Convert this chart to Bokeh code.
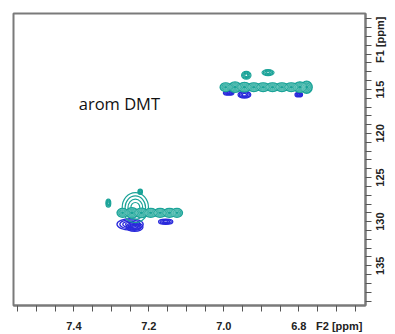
import math
from bokeh.plotting import figure
from bokeh.models import Range1d, FixedTicker, Label, ColumnDataSource
from bokeh.embed import file_html
from bokeh.resources import INLINE

# --- HSQC aromatic region: peak parameters (F2 ppm, F1 ppm, widths in ppm) ---
# positive cross-peak bands (drawn filled)
band_x = [6.995, 6.970, 6.945, 6.920, 6.895, 6.870, 6.845, 6.820, 6.797, 6.779,
          7.270, 7.245, 7.220, 7.195, 7.170, 7.145, 7.125]
band_y = [114.75, 114.75, 114.75, 114.75, 114.75, 114.75, 114.75, 114.75, 114.75, 114.75,
          129.0, 129.0, 129.0, 129.0, 129.0, 129.0, 129.0]
band_w = [0.030, 0.035, 0.035, 0.035, 0.035, 0.035, 0.035, 0.035, 0.035, 0.030,
          0.030, 0.035, 0.035, 0.035, 0.035, 0.035, 0.030]
band_h = [1.0, 1.2, 1.1, 1.0, 1.0, 1.0, 1.0, 1.0, 1.2, 1.4,
          1.0, 1.2, 1.1, 1.0, 1.0, 1.0, 1.0]

# positive isolated contours (drawn as rings)
ring_x = [7.236, 7.223, 7.308, 6.940, 6.882]
ring_y = [128.4, 126.6, 127.9, 113.4, 113.1]
ring_w = [0.070, 0.012, 0.013, 0.025, 0.032]
ring_h = [3.4, 0.6, 0.9, 0.9, 0.7]

# negative contours
neg_x = [6.987, 6.945, 6.800, 7.250, 7.238, 7.155]
neg_y = [115.4, 115.6, 115.6, 130.3, 130.6, 130.0]
neg_w = [0.028, 0.034, 0.020, 0.070, 0.045, 0.038]
neg_h = [0.5, 0.8, 0.5, 1.3, 1.0, 0.6]

levels = [1.0, 0.78, 0.56, 0.34]

# axis labels; the extra position on each axis carries the axis title
x_labels = {7.4: "7.4", 7.2: "7.2", 7.0: "7.0", 6.8: "6.8", 6.692: "F2 [ppm]"}
y_labels = {115: "115", 120: "120", 125: "125", 130: "130", 135: "135", 109.4: "F1 [ppm]"}
x_ticks = [7.55, 7.50, 7.45, 7.40, 7.35, 7.30, 7.25, 7.20, 7.15, 7.10, 7.05,
           7.00, 6.95, 6.90, 6.85, 6.80, 6.75, 6.70, 6.65]
y_ticks = list(range(107, 140))

POS = "#1aa398"
NEG = "#2a2adb"
GRAY = "#7a7a7a"

F1_TOP, F1_BOTTOM = 106.4, 139.5
FRAME_H = 334 - 13 - 26
PX_PER_PPM = FRAME_H / (F1_BOTTOM - F1_TOP)

p = figure(width=395, height=334, output_backend="svg", toolbar_location=None,
           x_range=Range1d(7.561, 6.622), y_range=Range1d(F1_BOTTOM, F1_TOP),
           y_axis_location="right")
p.min_border_left = 13
p.min_border_top = 13
p.min_border_right = 24
p.min_border_bottom = 26
p.xgrid.visible = False
p.ygrid.visible = False
p.outline_line_color = GRAY
p.outline_line_width = 2
p.background_fill_color = "white"
p.border_fill_color = "white"

def lv(xs, ys, ws, hs, f):
    return ColumnDataSource(dict(x=xs, y=ys, w=[w * f for w in ws], h=[h * f for h in hs]))

# negative levels
for f in levels:
    p.ellipse("x", "y", "w", "h", source=lv(neg_x, neg_y, neg_w, neg_h, f),
              fill_color=None, line_color=NEG, line_width=1.3)

# positive isolated rings
for f in levels:
    p.ellipse("x", "y", "w", "h", source=lv(ring_x, ring_y, ring_w, ring_h, f),
              fill_color=None, line_color=POS, line_width=1.2)

# positive bands
p.ellipse("x", "y", "w", "h", source=lv(band_x, band_y, band_w, band_h, 1.0),
          fill_color=POS, line_color=POS, line_width=1.2)
for f in levels[1:]:
    p.ellipse("x", "y", "w", "h", source=lv(band_x, band_y, band_w, band_h, f),
              fill_color=None, line_color="#86d1c8", line_width=0.6)

p.add_layout(Label(x=7.387, y=116.6, text="arom DMT", text_font="Open Sans",
                   text_font_size="16.5px", text_color="#111111",
                   text_baseline="middle", text_align="left"))

# x axis: visible tick marks are the minor ticks, major ticks only carry labels
xa = p.xaxis[0]
xa.ticker = FixedTicker(ticks=list(x_labels), minor_ticks=x_ticks)
xa.major_label_overrides = x_labels

# y axis: labels are rotated to read bottom-to-top; a rotated label starts at its
# anchor, so each anchor is moved down by half the label's length to centre it
LABEL_FONT_PX = 11
ADV = {"0": 0.556, "1": 0.556, "2": 0.556, "3": 0.556, "5": 0.556, "F": 0.611,
       " ": 0.278, "[": 0.333, "]": 0.333, "p": 0.611, "m": 0.889}
def half_len_ppm(s):
    return sum(ADV.get(c, 0.556) for c in s) * LABEL_FONT_PX / 2 / PX_PER_PPM
y_anchor = {v + half_len_ppm(s): s for v, s in y_labels.items()}
ya = p.yaxis[0]
ya.ticker = FixedTicker(ticks=list(y_anchor), minor_ticks=y_ticks)
ya.major_label_overrides = y_anchor
ya.major_label_orientation = math.pi / 2

for ax in (xa, ya):
    ax.axis_line_color = GRAY
    ax.axis_line_width = 2
    ax.minor_tick_line_color = "#555555"
    ax.major_tick_out = 0
    ax.major_tick_in = 0
    ax.minor_tick_out = 6
    ax.minor_tick_in = 0
    ax.major_label_text_font = "Liberation Sans"
    ax.major_label_text_font_style = "bold"
    ax.major_label_text_font_size = f"{LABEL_FONT_PX}px"
    ax.major_label_text_color = "#222222"
xa.major_label_standoff = 8
ya.major_label_standoff = 9

open("out.html", "w").write(file_html(p, INLINE))
